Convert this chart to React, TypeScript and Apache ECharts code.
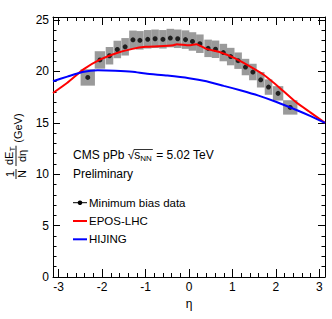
import React, { useEffect, useRef } from "react";
import * as echarts from "echarts";

// ---- data ----
const etaBins = [-2.33, -2.05, -1.83, -1.65, -1.47, -1.29, -1.13, -0.95, -0.78, -0.6, -0.43, -0.26, -0.08,
  0.08, 0.25, 0.44, 0.61, 0.79, 0.96, 1.13, 1.3, 1.47, 1.65, 1.83, 2.05, 2.33];
const dataValues = [19.42, 21.12, 21.53, 22.14, 22.4, 23.08, 23.03, 23.13, 23.18, 23.13, 23.25, 23.18, 23.1,
  22.92, 22.7, 22.25, 22.16, 21.84, 21.45, 21.05, 20.43, 19.94, 19.19, 18.48, 17.87, 16.5];
const sysErrors = [0.8, 0.85, 0.85, 0.85, 0.85, 0.9, 0.9, 0.9, 0.9, 0.9, 0.9, 0.9, 0.9,
  0.9, 0.9, 0.85, 0.85, 0.85, 0.85, 0.8, 0.8, 0.8, 0.75, 0.75, 0.7, 0.7];
const binHalfWidths = [0.165, 0.12, 0.087, 0.087, 0.087, 0.087, 0.087, 0.087, 0.087, 0.087, 0.087, 0.087, 0.087,
  0.087, 0.087, 0.087, 0.087, 0.087, 0.087, 0.087, 0.087, 0.087, 0.087, 0.087, 0.12, 0.165];

const eposEta = [-3.13, -2.8, -2.43, -2.05, -1.66, -1.3, -1.0, -0.7, -0.36, -0.28, 0.0, 0.17, 0.4, 0.7, 1.05,
  1.4, 1.71, 2.09, 2.48, 2.8, 3.13];
const eposValues = [17.9, 18.9, 20.2, 21.15, 21.8, 22.2, 22.4, 22.45, 22.55, 22.65, 22.55, 22.65, 22.2, 21.9, 21.3,
  20.5, 19.7, 18.4, 16.95, 16.0, 15.0];

const hijingEta = [-3.13, -2.8, -2.45, -2.1, -1.7, -1.3, -1.0, -0.5, 0.0, 0.4, 0.8, 1.2, 1.6, 2.0, 2.5, 2.8, 3.13];
const hijingValues = [19.05, 19.5, 19.95, 20.12, 20.08, 19.98, 19.8, 19.6, 19.35, 19.05, 18.6, 18.15, 17.65, 17.05,
  16.2, 15.65, 15.0];

const xTickLabels = [-3, -2, -1, 0, 1, 2, 3];
const yTickLabels = [0, 5, 10, 15, 20, 25];

const legendNames = ["Minimum bias data", "EPOS-LHC", "HIJING"];
const XMIN = -3.13;
const XMAX = 3.13;
const YMIN = 0;
const YMAX = 25.3;

const FONT = '"Liberation Sans", Arial, Helvetica, sans-serif';

const xMinor: number[] = [];
for (let k = -15; k <= 15; k++) if (k % 5 !== 0) xMinor.push(k / 5);
const yMinor: number[] = [];
for (let k = 1; k <= 25; k++) if (k % 5 !== 0) yMinor.push(k);

function textWidth(t: string, size: number): number {
  const c = document.createElement("canvas").getContext("2d");
  if (!c) return t.length * size * 0.55;
  c.font = `${size}px "Liberation Sans"`;
  return c.measureText(t).width;
}

function xAxisDef(position: "bottom" | "top", ticks: number[], len: number, showLine: boolean, showLabels: boolean, withName: boolean) {
  return {
    type: "value",
    min: XMIN,
    max: XMAX,
    position,
    name: withName ? "η" : "",
    nameLocation: "middle",
    nameGap: 17,
    nameTextStyle: { fontSize: 12, color: "#000", fontFamily: FONT },
    axisLine: { show: showLine, onZero: false, lineStyle: { color: "#000", width: 1 } },
    axisTick: { show: true, inside: true, length: len, customValues: ticks, lineStyle: { color: "#000", width: 1 } },
    axisLabel: showLabels
      ? { show: true, customValues: xTickLabels, margin: 4, fontSize: 12, color: "#000", fontFamily: FONT, formatter: (v: number) => String(v) }
      : { show: false },
    splitLine: { show: false },
    minorTick: { show: false },
  };
}

function yAxisDef(position: "left" | "right", ticks: number[], len: number, showLine: boolean, showLabels: boolean) {
  return {
    type: "value",
    min: YMIN,
    max: YMAX,
    position,
    axisLine: { show: showLine, onZero: false, lineStyle: { color: "#000", width: 1 } },
    axisTick: { show: true, inside: true, length: len, customValues: ticks, lineStyle: { color: "#000", width: 1 } },
    axisLabel: showLabels
      ? { show: true, customValues: yTickLabels, margin: 4, fontSize: 12, color: "#000", fontFamily: FONT, formatter: (v: number) => String(v) }
      : { show: false },
    splitLine: { show: false },
    minorTick: { show: false },
  };
}

export default function App() {
  const ref = useRef<HTMLDivElement>(null);
  useEffect(() => {
    if (!ref.current) return;
    const chart = echarts.init(ref.current, undefined, { renderer: "svg" });

    const black = "#000";
    // ---- CMS label line ----
    const cx = 73;
    const cy = 155;
    const fs = 12;
    const w1 = textWidth("CMS pPb ", fs);
    const wSq = textWidth("√", fs);
    const wS = textWidth("s", fs);
    const wNN = textWidth("NN", 8);
    const xs = cx + w1 + wSq;
    const cmsGraphics: any[] = [
      { type: "text", x: cx, y: cy, style: { text: "CMS pPb ", font: `${fs}px ${FONT}`, fill: black, textVerticalAlign: "middle" } },
      { type: "text", x: cx + w1, y: cy, style: { text: "√", font: `${fs}px ${FONT}`, fill: black, textVerticalAlign: "middle" } },
      { type: "text", x: xs, y: cy, style: { text: "s", font: `${fs}px ${FONT}`, fill: black, textVerticalAlign: "middle" } },
      { type: "text", x: xs + wS, y: cy + 3.5, style: { text: "NN", font: `8px ${FONT}`, fill: black, textVerticalAlign: "middle" } },
      { type: "text", x: xs + wS + wNN + 1, y: cy, style: { text: " = 5.02 TeV", font: `${fs}px ${FONT}`, fill: black, textVerticalAlign: "middle" } },
      { type: "line", shape: { x1: xs - 0.5, y1: cy - 5.5, x2: xs + wS + wNN + 1, y2: cy - 5.5 }, style: { stroke: black, lineWidth: 0.8 } },
      { type: "text", x: cx, y: 173.5, style: { text: "Preliminary", font: `${fs}px ${FONT}`, fill: black, textVerticalAlign: "middle" } },
    ];

    // ---- legend ----
    const lx = 73;
    const lRows = [202.7, 221, 239.3];
    const lColors = [black, "#ff0000", "#0000ff"];
    const legendGraphics: any[] = [];
    lRows.forEach((ly, i) => {
      legendGraphics.push({ type: "line", shape: { x1: lx, y1: ly, x2: lx + 14, y2: ly }, style: { stroke: lColors[i], lineWidth: i === 0 ? 1 : 2 } });
      if (i === 0) legendGraphics.push({ type: "circle", shape: { cx: lx + 7, cy: ly, r: 2.3 }, style: { fill: black } });
      legendGraphics.push({ type: "text", x: lx + 16, y: ly, style: { text: legendNames[i], font: `11.5px ${FONT}`, fill: black, textVerticalAlign: "middle" } });
    });

    // ---- y axis title (rotated) ----
    const ts = 11;
    const wN = textWidth("N", ts);
    const bar1 = wN + 2;
    const s2 = bar1 + 3;
    const wdE = textWidth("dE", ts);
    const wT = textWidth("T", 8);
    const wdeta = textWidth("dη", ts);
    const numW = wdE + wT;
    const bar2 = Math.max(numW, wdeta) + 2;
    const numStart = s2 + (bar2 - numW) / 2;
    const s3 = s2 + bar2 + 3;
    const tf = `${ts}px ${FONT}`;
    const yTitle = {
      type: "group",
      x: 16,
      y: 179,
      rotation: Math.PI / 2,
      children: [
        { type: "text", x: bar1 / 2, y: -0.5, style: { text: "1", font: tf, fill: black, textAlign: "center", textVerticalAlign: "bottom" } },
        { type: "line", shape: { x1: 0, y1: 0, x2: bar1, y2: 0 }, style: { stroke: black, lineWidth: 0.9 } },
        { type: "text", x: bar1 / 2, y: 0.5, style: { text: "N", font: tf, fill: black, textAlign: "center", textVerticalAlign: "top" } },
        { type: "text", x: numStart, y: -1.5, style: { text: "dE", font: tf, fill: black, textAlign: "left", textVerticalAlign: "bottom" } },
        { type: "text", x: numStart + wdE, y: 0.2, style: { text: "T", font: `8px ${FONT}`, fill: black, textAlign: "left", textVerticalAlign: "bottom" } },
        { type: "line", shape: { x1: s2, y1: 0, x2: s2 + bar2, y2: 0 }, style: { stroke: black, lineWidth: 0.9 } },
        { type: "text", x: s2 + bar2 / 2, y: 0.5, style: { text: "dη", font: tf, fill: black, textAlign: "center", textVerticalAlign: "top" } },
        { type: "text", x: s3, y: 1.5, style: { text: "(GeV)", font: tf, fill: black, textAlign: "left", textVerticalAlign: "middle" } },
      ],
    };

    const boxData = etaBins.map((x, i) => [x, dataValues[i], binHalfWidths[i], sysErrors[i]]);

    chart.setOption({
      animation: false,
      backgroundColor: "#fff",
      textStyle: { fontFamily: FONT },
      grid: { left: 53, right: 7, top: 17, bottom: 42, containLabel: false },
      xAxis: [
        xAxisDef("bottom", xTickLabels, 8, true, true, true),
        xAxisDef("bottom", xMinor, 4, false, false, false),
        xAxisDef("top", xTickLabels, 8, true, false, false),
        xAxisDef("top", xMinor, 4, false, false, false),
      ],
      yAxis: [
        yAxisDef("left", yTickLabels, 7, true, true),
        yAxisDef("left", yMinor, 3.5, false, false),
        yAxisDef("right", yTickLabels, 7, true, false),
        yAxisDef("right", yMinor, 3.5, false, false),
      ],
      series: [
        {
          type: "custom",
          name: "sys",
          xAxisIndex: 0,
          yAxisIndex: 0,
          data: boxData,
          encode: { x: 0, y: 1 },
          clip: true,
          renderItem: (params: any, api: any) => {
            const x = api.value(0);
            const y = api.value(1);
            const hw = api.value(2);
            const e = api.value(3);
            const p1 = api.coord([x - hw, y + e]);
            const p2 = api.coord([x + hw, y - e]);
            return {
              type: "rect",
              shape: { x: p1[0], y: p1[1], width: p2[0] - p1[0], height: p2[1] - p1[1] },
              style: { fill: "#9a9a9a" },
            };
          },
        },
        {
          type: "line",
          name: legendNames[1],
          xAxisIndex: 0,
          yAxisIndex: 0,
          data: eposEta.map((x, i) => [x, eposValues[i]]),
          symbol: "none",
          smooth: 0.15,
          lineStyle: { color: "#ff0000", width: 2 },
          itemStyle: { color: "#ff0000" },
        },
        {
          type: "line",
          name: legendNames[2],
          xAxisIndex: 0,
          yAxisIndex: 0,
          data: hijingEta.map((x, i) => [x, hijingValues[i]]),
          symbol: "none",
          smooth: 0.2,
          lineStyle: { color: "#0000ff", width: 2 },
          itemStyle: { color: "#0000ff" },
        },
        {
          type: "scatter",
          name: legendNames[0],
          xAxisIndex: 0,
          yAxisIndex: 0,
          data: etaBins.map((x, i) => [x, dataValues[i]]),
          symbol: "circle",
          symbolSize: 5,
          itemStyle: { color: "#000" },
        },
      ],
      graphic: [...cmsGraphics, ...legendGraphics, yTitle],
    });
    return () => chart.dispose();
  }, []);
  return <div ref={ref} style={{ position: "fixed", left: 0, top: 0, width: 332, height: 319, background: "#fff" }} />;
}
